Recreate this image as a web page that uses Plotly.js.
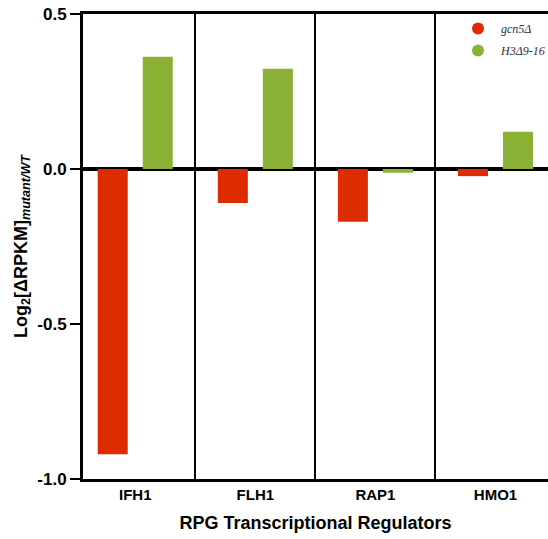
<!DOCTYPE html>
<html>
<head>
<meta charset="utf-8">
<script src="https://cdn.plot.ly/plotly-3.0.1.min.js"></script>
<style>html,body{margin:0;padding:0;background:#fff;}#chart{width:548px;height:539px;}</style>
</head>
<body>
<div id="chart"></div>
<script>
// Data
const categories = ["IFH1", "FLH1", "RAP1", "HMO1"];
const gcn5Values = [-0.92, -0.11, -0.17, -0.023];
const h3Values = [0.362, 0.323, -0.012, 0.12];
const seriesNames = ["gcn5Δ", "H3Δ9-16"];
const yTickVals = [0.5, 0, -0.5, -1.0];
const yTickText = ["0.5", "0.0", "-0.5", "-1.0"];

const RED = "#dc2c00";
const GREEN = "#8ab136";
const FONT = "Liberation Sans, Arial, sans-serif";

const traces = [
  {type: "bar", x: categories, y: gcn5Values, name: seriesNames[0], marker: {color: RED}, showlegend: false, legendgroup: "a"},
  {type: "bar", x: categories, y: h3Values, name: seriesNames[1], marker: {color: GREEN}, showlegend: false, legendgroup: "b"},
  {type: "scatter", mode: "markers", x: [null], y: [null], name: "<i>" + seriesNames[0] + "</i>", marker: {color: RED, size: 12, symbol: "circle"}, legendgroup: "a", hoverinfo: "skip"},
  {type: "scatter", mode: "markers", x: [null], y: [null], name: "<i>" + seriesNames[1] + "</i>", marker: {color: GREEN, size: 12, symbol: "circle"}, legendgroup: "b", hoverinfo: "skip"}
];

const layout = {
  width: 548, height: 539,
  margin: {l: 83, r: 0, t: 14, b: 60, pad: 0, autoexpand: false},
  paper_bgcolor: "#fff", plot_bgcolor: "#fff",
  font: {family: FONT, color: "#000"},
  barmode: "group", bargap: 0.25, bargroupgap: 1/3,
  showlegend: true,
  legend: {x: 0.80, y: 1, xanchor: "left", yanchor: "top", bgcolor: "rgba(0,0,0,0)",
           itemwidth: 36,
           font: {family: "Liberation Serif, Times New Roman, serif", size: 12, color: "#333"},
           tracegroupgap: 3},
  xaxis: {
    type: "category", range: [-0.435, 3.4375],
    tickson: "boundaries", ticks: "",
    showgrid: true, gridcolor: "#000", gridwidth: 2,
    showline: true, linecolor: "#000", linewidth: 3, mirror: true,
    tickfont: {family: FONT, size: 15, weight: 700, color: "#000"},
    title: {text: "RPG Transcriptional Regulators", font: {family: FONT, size: 18, weight: 700, color: "#000"}, standoff: 15},
    zeroline: false, fixedrange: true
  },
  yaxis: {
    range: [-1.0, 0.5], tickvals: yTickVals, ticktext: yTickText,
    ticks: "outside", ticklen: 10, tickwidth: 2, tickcolor: "#000",
    showgrid: false,
    showline: true, linecolor: "#000", linewidth: 3, mirror: false,
    zeroline: true, zerolinecolor: "#000", zerolinewidth: 4,
    tickfont: {family: FONT, size: 17, weight: 700, color: "#000"},
    title: {text: "Log<sub>2</sub>[ΔRPKM]<sub><i>mutant/WT</i></sub>", font: {family: FONT, size: 18, weight: 700, color: "#000"}, standoff: 6},
    fixedrange: true
  }
};

Plotly.newPlot("chart", traces, layout, {displayModeBar: false, staticPlot: true});
</script>
</body>
</html>
